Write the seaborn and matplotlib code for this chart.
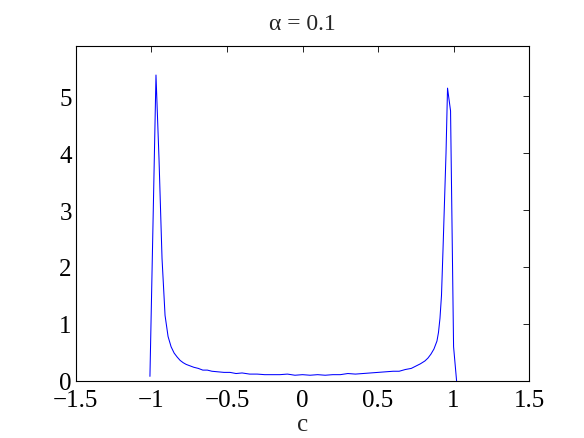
import matplotlib
matplotlib.use("Agg")
import matplotlib.pyplot as plt
import seaborn as sns
import pandas as pd

c_vals = [-1.01, -0.97, -0.95, -0.93, -0.91, -0.89, -0.87, -0.85, -0.83, -0.81,
          -0.79, -0.77, -0.75, -0.72, -0.69, -0.66, -0.63, -0.60, -0.56, -0.52,
          -0.48, -0.44, -0.40, -0.35, -0.30, -0.25, -0.20, -0.15, -0.10, -0.05,
          0.0, 0.05, 0.10, 0.15, 0.20, 0.25, 0.30, 0.35, 0.40, 0.45,
          0.50, 0.55, 0.60, 0.64, 0.68, 0.72, 0.75, 0.78, 0.81, 0.83,
          0.85, 0.87, 0.89, 0.90, 0.91, 0.92, 0.93, 0.95, 0.96, 0.98,
          1.00, 1.02]
density = [0.08, 5.37, 3.90, 2.15, 1.15, 0.78, 0.60, 0.49, 0.42, 0.36,
           0.32, 0.29, 0.27, 0.24, 0.22, 0.19, 0.19, 0.17, 0.16, 0.15,
           0.15, 0.13, 0.14, 0.12, 0.12, 0.11, 0.11, 0.11, 0.12, 0.10,
           0.11, 0.10, 0.11, 0.10, 0.11, 0.11, 0.13, 0.12, 0.13, 0.14,
           0.15, 0.16, 0.17, 0.17, 0.20, 0.22, 0.26, 0.30, 0.35, 0.40,
           0.47, 0.56, 0.70, 0.85, 1.10, 1.50, 2.30, 4.00, 5.14, 4.74,
           0.60, 0.00]

x_ticks = [-1.5, -1, -0.5, 0, 0.5, 1, 1.5]
x_tick_labels = ["\u22121.5", "\u22121", "\u22120.5", "0", "0.5", "1", "1.5"]
y_ticks = [0, 1, 2, 3, 4, 5]
y_tick_labels = ["0", "1", "2", "3", "4", "5"]

sns.set_theme(style="white")
plt.rcParams["font.family"] = ["Liberation Serif", "DejaVu Serif"]

df = pd.DataFrame({"c": c_vals, "density": density})

fig = plt.figure(figsize=(5.84, 4.39), dpi=100)
ax = fig.add_axes([0.130, 0.130, 0.776, 0.763])
sns.lineplot(data=df, x="c", y="density", ax=ax, color="#0000ff",
             linewidth=0.75, sort=False)

ax.set_xlim(-1.5, 1.5)
ax.set_ylim(0, 5.88)
ax.set_xticks(x_ticks)
ax.set_xticklabels(x_tick_labels)
ax.set_yticks(y_ticks)
ax.set_yticklabels(y_tick_labels)
ax.tick_params(direction="in", length=4, width=0.6, top=True, right=True,
               labelsize=18, colors="black")
ax.tick_params(axis="x", pad=5.5)
ax.tick_params(axis="y", pad=3)
for s in ax.spines.values():
    s.set_color("black")
    s.set_linewidth(0.8)
ax.set_xlabel("c", fontsize=18, labelpad=2)
ax.set_ylabel("")
ax.set_title("\u03b1 = 0.1", fontsize=17, pad=12)

fig.savefig("out.png", dpi=100)
